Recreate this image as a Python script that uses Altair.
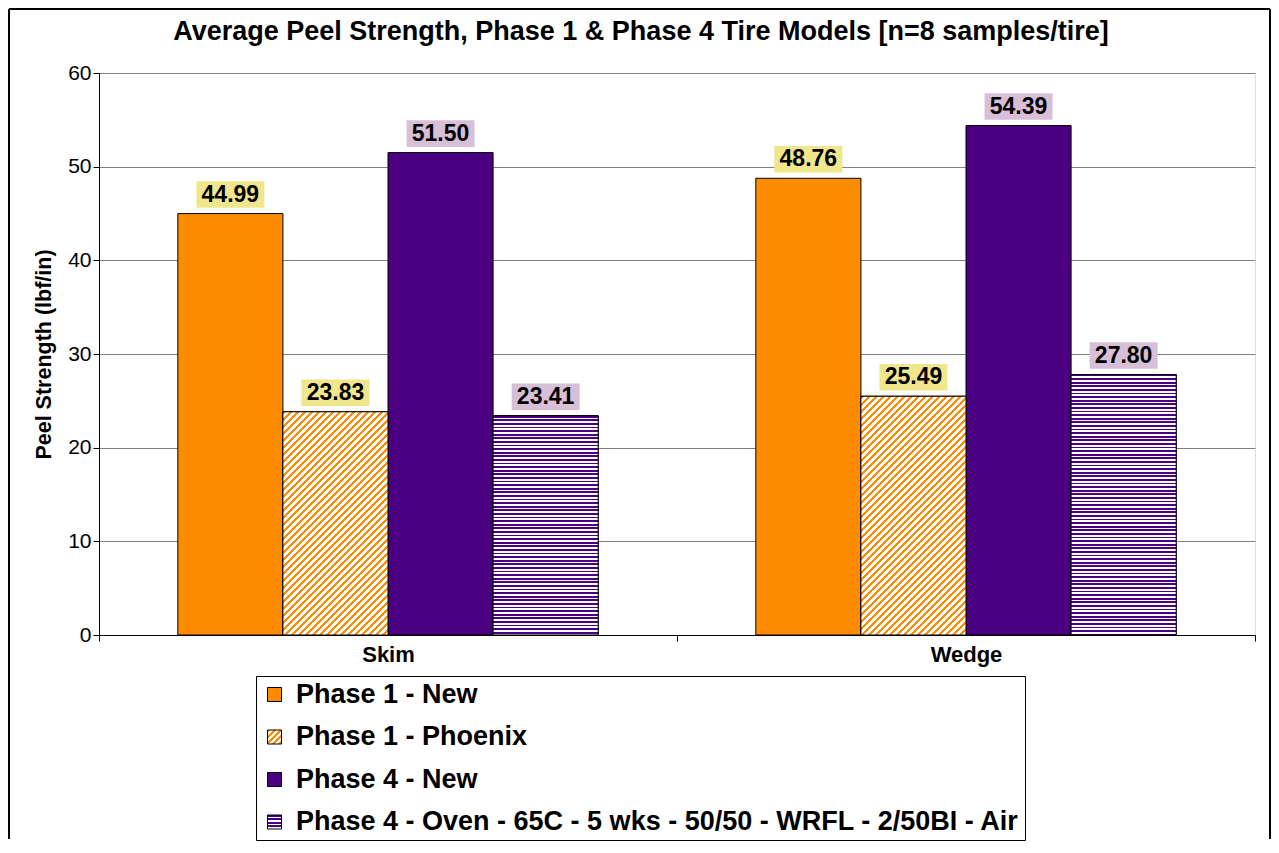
import json
import altair as alt
import pandas as pd

# ---------------- data ----------------
groups = ["Skim", "Wedge"]
series = [
    "Phase 1 - New",
    "Phase 1 - Phoenix",
    "Phase 4 - New",
    "Phase 4 - Oven - 65C - 5 wks - 50/50 - WRFL - 2/50BI - Air",
]
skim_values = [44.99, 23.83, 51.50, 23.41]
wedge_values = [48.76, 25.49, 54.39, 27.80]
y_ticks = [0, 10, 20, 30, 40, 50, 60]
title_text = "Average Peel Strength, Phase 1 & Phase 4 Tire Models [n=8 samples/tire]"

# ---------------- style ----------------
FONT = "Liberation Sans"
W, H = 1156, 562
Y_MAX = 60
base_colors = ["#FF8C00", "#FF8C00", "#4B0082", "#4B0082"]
hatch_kind = ["solid", "diagonal", "solid", "horizontal"]
box_colors = ["#F0E68C", "#F0E68C", "#D8BFD8", "#D8BFD8"]
BAR_W = (W / len(groups)) / (len(series) + 1.5)

rows = []
for g, vals in zip(groups, [skim_values, wedge_values]):
    for s, v, bc in zip(series, vals, box_colors):
        rows.append({"group": g, "series": s, "value": v, "box": bc,
                     "label": f"{v:.2f}"})
df = pd.DataFrame(rows)


def stripe_stops(n, color, frac):
    stops = []
    k = 0
    while k / n < 1:
        a = k / n
        b = min((k + frac) / n, 1)
        c = min((k + 1) / n, 1)
        stops += [{"offset": round(a, 5), "color": color},
                  {"offset": round(b, 5), "color": color},
                  {"offset": round(b, 5), "color": "#FFFFFF"},
                  {"offset": round(c, 5), "color": "#FFFFFF"}]
        k += 1
    return stops


def diag_gradient(color, w, h, period=7.0, frac=0.42):
    r = h / w
    n = w * (1 + r * r) / period
    return {"gradient": "linear", "x1": 0, "y1": 0, "x2": 1, "y2": r,
            "stops": stripe_stops(n, color, frac)}


def horiz_gradient(color, h, period=3.6, frac=0.5):
    n = h / period
    return {"gradient": "linear", "x1": 0, "y1": 0, "x2": 0, "y2": 1,
            "stops": stripe_stops(n, color, frac)}


# legend swatches (14x14)
legend_range = []
for c, k in zip(base_colors, hatch_kind):
    if k == "solid":
        legend_range.append(c)
    elif k == "diagonal":
        legend_range.append({"expr": json.dumps(diag_gradient(c, 14, 14, period=6.0))})
    else:
        legend_range.append({"expr": json.dumps(horiz_gradient(c, 14, period=3.5))})

x_enc = alt.X("group:N", sort=groups, title=None,
              scale=alt.Scale(paddingInner=0, paddingOuter=0),
              axis=alt.Axis(labelAngle=0, tickBand="extent", tickSize=6,
                            tickColor="black", domainColor="black",
                            labelFont=FONT, labelFontSize=22, labelFontWeight="bold",
                            labelColor="black", labelPadding=3))
xo_enc = alt.XOffset("series:N", sort=series,
                     scale=alt.Scale(domain=series, paddingOuter=0.75, paddingInner=0))
y_enc = alt.Y("value:Q",
              scale=alt.Scale(domain=[0, Y_MAX], nice=False),
              axis=alt.Axis(values=y_ticks, title="Peel Strength (lbf/in)",
                            grid=True, gridColor="#808080", gridWidth=1,
                            domainColor="black", tickColor="black", tickSize=6,
                            labelFont=FONT, labelFontSize=21, labelColor="black",
                            labelPadding=2, titleFont=FONT, titleFontSize=21.5,
                            titleFontWeight="bold", titleColor="black",
                            titlePadding=12))

base = alt.Chart(df)

bars = base.mark_bar(stroke="black", strokeWidth=1).encode(
    x=x_enc, xOffset=xo_enc, y=y_enc,
    color=alt.Color("series:N", sort=series,
                    scale=alt.Scale(domain=series, range=legend_range),
                    legend=alt.Legend(orient="none", legendX=157, legendY=603,
                                      direction="vertical", title=None,
                                      symbolType="square", symbolSize=196,
                                      symbolStrokeColor="black", symbolStrokeWidth=1,
                                      labelFont=FONT, labelFontSize=27,
                                      labelFontWeight="bold", labelColor="black",
                                      labelLimit=1000, labelOffset=8,
                                      rowPadding=14.5, padding=5,
                                      strokeColor="black", fillColor="white")),
)

layers = [bars]
# hatched overlays, one per hatched bar
for r in df.itertuples():
    idx = series.index(r.series)
    kind = hatch_kind[idx]
    if kind == "solid":
        continue
    h_px = r.value / Y_MAX * H
    if kind == "diagonal":
        grad = diag_gradient(base_colors[idx], BAR_W, h_px)
    else:
        grad = horiz_gradient(base_colors[idx], h_px)
    layers.append(
        base.transform_filter(
            (alt.datum.series == r.series) & (alt.datum.group == r.group)
        ).mark_bar(stroke="black", strokeWidth=1, fill=grad).encode(
            x=x_enc, xOffset=xo_enc, y=y_enc)
    )

box_shape = "M-1,-0.39H1V0.39H-1Z"
boxes = base.mark_point(shape=box_shape, filled=True, size=68 * 68, opacity=1,
                        strokeWidth=0, yOffset=-19).encode(
    x=x_enc, xOffset=xo_enc, y=y_enc,
    fill=alt.Fill("box:N", scale=None, legend=None),
)
texts = base.mark_text(font=FONT, fontSize=23, fontWeight="bold", color="black",
                       baseline="middle", dy=-19).encode(
    x=x_enc, xOffset=xo_enc, y=y_enc, text="label:N")
layers += [boxes, texts]

# chart title and outer frame (decoration)
one = pd.DataFrame({"k": [0]})
title = alt.Chart(one).mark_text(
    text=title_text, font=FONT, fontSize=27, fontWeight="bold", color="black",
    align="center", baseline="alphabetic").encode(
    x=alt.value(542), y=alt.value(-33))
frame_l = alt.Chart(one).mark_rule(color="black", strokeWidth=2).encode(
    x=alt.value(-90), y=alt.value(-64), y2=alt.value(766))
frame_r = alt.Chart(one).mark_rule(color="black", strokeWidth=2).encode(
    x=alt.value(1171), y=alt.value(-64), y2=alt.value(766))
frame_t = alt.Chart(one).mark_rule(color="black", strokeWidth=2).encode(
    x=alt.value(-90), x2=alt.value(1171), y=alt.value(-64))
layers += [title, frame_l, frame_r, frame_t]

chart = alt.layer(*layers).properties(
    width=W, height=H,
).configure_view(stroke="#808080", strokeWidth=1).configure(
    padding=0, background="white")

chart.save("out.html", embed_options={"renderer": "svg", "actions": False})
